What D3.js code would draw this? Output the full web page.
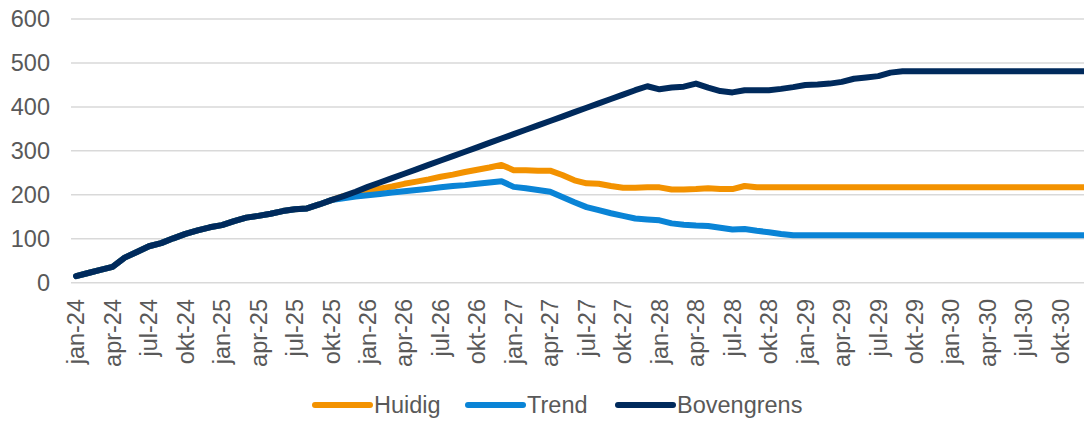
<!DOCTYPE html>
<html lang="nl">
<head>
<meta charset="utf-8"/>
<title>Huidig / Trend / Bovengrens</title>
<script src="https://cdn.jsdelivr.net/npm/d3@7"></script>
<style>
  html, body { margin: 0; padding: 0; background: #fff; }
  svg { display: block; font-family: "Liberation Sans", Arial, sans-serif; }
</style>
</head>
<body>
<svg id="chart" width="1084" height="421"></svg>
<script>
// categories: one per month, jan-24 .. dec-30
const monthNames = ['jan','feb','mrt','apr','mei','jun','jul','aug','sep','okt','nov','dec'];
const years = ['24','25','26','27','28','29','30'];
const months = years.flatMap(y => monthNames.map(m => m + '-' + y));

const yTicks = [0, 100, 200, 300, 400, 500, 600];

const bovengrens = [
  15, 22, 29, 36, 57, 70, 83, 90, 101, 111, 119, 126,
  131, 140, 148, 152, 157, 163, 167, 169, 178, 188, 197, 207,
  218, 228, 238, 248, 258, 268, 278, 288, 298, 308, 318, 328,
  338, 348, 358, 368, 378, 388, 398, 408, 418, 428, 438, 447,
  440, 444, 446, 453, 444, 436, 433, 438, 438, 438, 441, 445,
  450, 451, 453, 457, 464, 467, 470, 478, 481, 481, 481, 481,
  481, 481, 481, 481, 481, 481, 481, 481, 481, 481, 481, 481
];

const huidig = [
  15, 22, 29, 36, 57, 70, 83, 90, 101, 111, 119, 126,
  131, 140, 148, 152, 157, 163, 167, 169, 178, 188, 197, 203,
  208, 214, 219, 225, 230, 235, 241, 246, 252, 257, 262, 268,
  256, 256, 255, 255, 245, 233, 226, 225, 220, 216, 216, 217,
  217, 212, 212, 213, 215, 213, 213, 220, 217, 217, 217, 217,
  217, 217, 217, 217, 217, 217, 217, 217, 217, 217, 217, 217,
  217, 217, 217, 217, 217, 217, 217, 217, 217, 217, 217, 217
];

const trend = [
  15, 22, 29, 36, 57, 70, 83, 90, 101, 111, 119, 126,
  131, 140, 148, 152, 157, 163, 167, 169, 178, 188, 192, 196,
  199, 202, 205, 208, 211, 214, 217, 220, 222, 225, 228, 231,
  218, 215, 211, 207, 195, 183, 172, 165, 158, 152, 146, 144,
  142, 135, 132, 130, 129, 125, 121, 122, 118, 115, 111, 108,
  108, 108, 108, 108, 108, 108, 108, 108, 108, 108, 108, 108,
  108, 108, 108, 108, 108, 108, 108, 108, 108, 108, 108, 108
];

const seriesNames = ['Huidig', 'Trend', 'Bovengrens'];
const seriesColors = ['#F39200', '#0A84D6', '#002A5C'];
const seriesValues = [huidig, trend, bovengrens];

const svg = d3.select('#chart');
const textColor = '#595959';
const fontSize = 23.5;

const x = d3.scaleBand().domain(months).range([70, 1091]);
const y = d3.scaleLinear().domain([0, 600]).range([282.7, 19]);
const cx = d => x(d) + x.bandwidth() / 2;

// gridlines
svg.append('g')
  .selectAll('line')
  .data(yTicks)
  .enter()
  .append('line')
  .attr('x1', 71)
  .attr('x2', 1084)
  .attr('y1', d => y(d))
  .attr('y2', d => y(d))
  .attr('stroke', '#D9D9D9')
  .attr('stroke-width', 1.5);

// y labels
svg.append('g')
  .selectAll('text')
  .data(yTicks)
  .enter()
  .append('text')
  .attr('x', 50)
  .attr('y', d => y(d))
  .attr('dy', '0.35em')
  .attr('text-anchor', 'end')
  .attr('fill', textColor)
  .style('font-size', fontSize + 'px')
  .text(d => d);

// x labels, every 3rd month, rotated
svg.append('g')
  .selectAll('text')
  .data(months.filter((m, i) => i % 3 === 0))
  .enter()
  .append('text')
  .attr('transform', d => 'translate(' + cx(d) + ',299) rotate(-90)')
  .attr('dy', '0.35em')
  .attr('text-anchor', 'end')
  .attr('fill', textColor)
  .style('font-size', fontSize + 'px')
  .text(d => d);

// lines
const line = d3.line()
  .x((v, i) => cx(months[i]))
  .y(v => y(v));

svg.append('g')
  .selectAll('path')
  .data(seriesValues)
  .enter()
  .append('path')
  .attr('d', d => line(d))
  .attr('fill', 'none')
  .attr('stroke', (d, i) => seriesColors[i])
  .attr('stroke-width', 6)
  .attr('stroke-linejoin', 'round')
  .attr('stroke-linecap', 'round');

// legend
const legendX = [315, 468, 618];
const legend = svg.append('g')
  .selectAll('g')
  .data(seriesNames)
  .enter()
  .append('g')
  .attr('transform', (d, i) => 'translate(' + legendX[i] + ',405)');

legend.append('line')
  .attr('x1', 0)
  .attr('x2', 55)
  .attr('stroke', (d, i) => seriesColors[i])
  .attr('stroke-width', 6)
  .attr('stroke-linecap', 'round');

legend.append('text')
  .attr('x', 59)
  .attr('dy', '0.35em')
  .attr('fill', textColor)
  .style('font-size', fontSize + 'px')
  .text(d => d);
</script>
</body>
</html>
